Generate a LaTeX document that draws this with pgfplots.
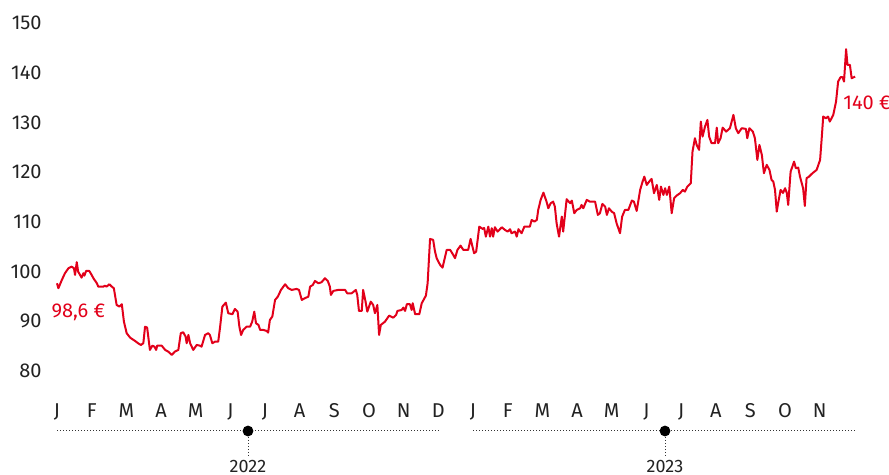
\documentclass[border=0pt]{standalone}
\usepackage{fontspec}
\setmainfont{Fira Sans}
\usepackage{pgfplots}
\pgfplotsset{compat=1.18}
\definecolor{cred}{HTML}{E2001A}
\definecolor{ctxt}{HTML}{222222}
\definecolor{cdot}{HTML}{333333}
\begin{document}
\begin{tikzpicture}
\path[use as bounding box] (0,0) rectangle (444.5pt,237.5pt);
\begin{axis}[
  at={(28.5pt,47.05pt)}, anchor=south west,
  scale only axis, width=400.44pt, height=183.93pt,
  xmin=0, xmax=23.1, ymin=78, ymax=152,
  axis line style={draw=none}, tick style={draw=none}, major tick length=0pt,
  ytick={80,90,...,150},
  yticklabel style={anchor=east, inner sep=0pt, xshift=-7.5pt, font=\fontsize{10}{12}\selectfont, text=ctxt},
  xtick={0,...,22},
  xticklabels={J,F,M,A,M,J,J,A,S,O,N,D,J,F,M,A,M,J,J,A,S,O,N},
  xticklabel style={anchor=base, inner sep=0pt, yshift=-18.5pt, font=\fontsize{10}{12}\selectfont, text=ctxt},
  /pgf/number format/assume math mode=true,
  clip=false,
]
\addplot[cred, line width=1pt, line join=round] coordinates {
(0.00,97.64) (0.04,96.64) (0.14,98.31) (0.23,99.66) (0.33,100.66) (0.42,100.99) (0.49,100.66) (0.52,99.32) (0.57,101.87) (0.61,99.98) (0.71,98.77) (0.76,99.66) (0.79,99.17) (0.84,100.12) (0.93,100.12) (1.00,99.32) (1.05,98.65) (1.15,97.64) (1.19,96.96) (1.34,96.96) (1.38,97.16) (1.43,96.96) (1.51,97.44) (1.58,96.96) (1.64,96.64) (1.72,93.28) (1.80,92.94) (1.87,93.42) (1.93,89.92) (2.01,87.59) (2.11,86.70) (2.25,86.04) (2.34,85.57) (2.42,85.23) (2.49,85.57) (2.54,88.91) (2.60,88.71) (2.68,84.23) (2.75,85.09) (2.81,84.89) (2.86,84.23) (2.89,85.09) (3.02,85.09) (3.12,84.23) (3.21,83.88) (3.31,83.22) (3.40,83.88) (3.50,84.23) (3.57,87.59) (3.64,87.79) (3.71,86.90) (3.74,85.57) (3.79,87.24) (3.84,85.57) (3.93,84.23) (4.03,85.23) (4.12,85.09)
(4.17,84.89) (4.27,87.24) (4.36,87.59) (4.41,87.24) (4.48,85.57) (4.56,85.90) (4.65,85.90) (4.70,88.59) (4.77,92.94) (4.87,93.74) (4.94,91.61) (5.06,91.41) (5.13,92.47) (5.21,91.93) (5.26,88.91) (5.31,87.24) (5.37,88.25) (5.47,88.91) (5.57,88.91) (5.63,89.92) (5.69,91.93) (5.74,89.60) (5.81,89.26) (5.86,88.25) (5.95,88.25) (6.05,88.05) (6.09,87.71) (6.14,90.26) (6.21,90.93) (6.29,94.29) (6.37,94.95) (6.46,96.30) (6.58,97.44) (6.67,96.64) (6.77,96.30) (6.91,96.50) (6.98,96.30) (7.06,94.29) (7.15,94.63) (7.25,94.95) (7.30,96.96) (7.38,97.30) (7.44,98.11) (7.54,97.64) (7.63,97.85) (7.73,98.65) (7.81,98.11) (7.87,96.96) (7.90,95.29) (7.97,96.10) (8.11,96.30) (8.31,96.30)
(8.37,95.63) (8.50,95.63) (8.62,96.30) (8.66,95.29) (8.71,92.07) (8.79,92.07) (8.83,96.30) (8.90,93.94) (8.95,91.93) (9.05,93.94) (9.12,93.28) (9.17,91.61) (9.24,93.28) (9.29,87.24) (9.34,89.26) (9.46,89.92) (9.58,91.13) (9.70,90.72) (9.78,91.27) (9.82,92.07) (9.94,92.27) (9.99,92.74) (10.04,92.07) (10.09,93.42) (10.18,93.42) (10.23,92.27) (10.26,93.62) (10.33,91.41) (10.45,91.41) (10.52,93.62) (10.64,95.15) (10.69,97.64) (10.76,106.56) (10.85,106.36) (10.90,104.14) (10.95,102.68) (11.05,101.33) (11.12,100.78) (11.24,104.35) (11.34,104.35) (11.43,103.34) (11.48,102.68) (11.55,104.35) (11.64,105.21) (11.72,104.35) (11.86,104.35) (11.93,106.56) (12.03,103.68) (12.09,104.00) (12.18,109.03) (12.28,108.57) (12.32,108.77) (12.37,107.02) (12.44,109.03)
(12.49,107.02) (12.54,108.71) (12.58,107.02) (12.63,108.91) (12.71,108.03) (12.83,108.91) (12.92,108.37) (13.00,108.03) (13.07,108.51) (13.11,107.70) (13.21,108.03) (13.26,107.02) (13.31,108.51) (13.40,107.70) (13.48,109.03) (13.64,109.03) (13.69,110.38) (13.77,110.04) (13.84,110.38) (13.88,112.39) (13.95,114.41) (14.03,115.87) (14.12,114.06) (14.17,112.73) (14.24,113.74) (14.31,114.06) (14.36,113.06) (14.41,109.72) (14.48,107.02) (14.56,111.05) (14.60,108.03) (14.70,114.55) (14.80,113.74) (14.85,114.26) (14.92,111.73) (14.99,112.39) (15.09,112.73) (15.13,113.40) (15.18,112.73) (15.28,114.41) (15.37,114.06) (15.52,114.06) (15.60,111.39) (15.66,111.73) (15.73,113.60) (15.81,113.06) (15.86,111.39) (15.92,112.73) (16.00,112.05) (16.07,111.73) (16.14,109.72) (16.24,107.70) (16.30,111.05) (16.38,112.39) (16.48,112.39) (16.58,114.26) (16.64,114.06)
(16.72,112.19) (16.82,116.42) (16.89,118.09) (16.94,119.09) (17.01,117.42) (17.08,118.09) (17.15,118.63) (17.22,115.75) (17.30,117.42) (17.37,114.41) (17.42,117.08) (17.49,115.41) (17.54,116.76) (17.59,115.41) (17.66,117.08) (17.73,111.73) (17.80,114.75) (17.87,115.27) (17.97,115.75) (18.05,116.42) (18.11,116.08) (18.18,117.08) (18.28,117.76) (18.33,124.12) (18.40,126.82) (18.45,125.47) (18.52,124.47) (18.57,130.16) (18.62,127.14) (18.69,129.15) (18.76,130.50) (18.81,127.14) (18.88,125.81) (18.98,125.81) (19.03,128.95) (19.07,125.81) (19.14,126.82) (19.20,128.95) (19.30,128.15) (19.41,128.83) (19.51,131.51) (19.58,128.83) (19.65,127.83) (19.75,128.83) (19.87,128.69) (19.91,126.82) (19.97,128.83) (20.07,128.15) (20.13,126.82) (20.20,122.45) (20.26,125.47) (20.33,123.46) (20.39,119.78) (20.47,121.45) (20.55,120.44) (20.61,118.43) (20.66,118.09) (20.71,116.42) (20.76,112.05)
(20.80,113.74) (20.87,116.42) (20.94,115.81) (21.00,116.76) (21.05,115.81) (21.09,113.40) (21.16,120.10) (21.26,122.11) (21.31,120.78) (21.38,120.90) (21.43,119.09) (21.52,116.76) (21.57,113.20) (21.62,118.77) (21.69,119.09) (21.79,119.78) (21.91,120.44) (22.01,122.45) (22.06,127.14) (22.10,131.17) (22.18,130.84) (22.24,131.17) (22.29,130.16) (22.39,131.51) (22.47,134.18) (22.53,138.21) (22.60,139.09) (22.66,139.09) (22.70,138.21) (22.76,144.73) (22.80,141.57) (22.87,141.57) (22.92,138.89) (23.02,139.21)
};
\node[anchor=west, inner sep=0pt, text=cred, font=\fontsize{10}{12}\selectfont] at (axis cs:-0.17,91.87) {98,6~€};
\node[anchor=west, inner sep=0pt, text=cred, font=\fontsize{10}{12}\selectfont] at (axis cs:22.67,133.92) {140~€};
\end{axis}
% year timeline
\draw[cdot, line width=0.5pt, dash pattern=on 0.5pt off 1pt] (28.5pt,22pt) -- (220.5pt,22pt);
\draw[cdot, line width=0.5pt, dash pattern=on 0.5pt off 1pt] (236.5pt,22pt) -- (428.5pt,22pt);
\draw[cdot, line width=0.5pt, dash pattern=on 0.5pt off 1pt] (124pt,22pt) -- (124pt,9.5pt);
\draw[cdot, line width=0.5pt, dash pattern=on 0.5pt off 1pt] (332.5pt,22pt) -- (332.5pt,9.5pt);
\fill[black] (124pt,22pt) circle (2.7pt);
\fill[black] (332.5pt,22pt) circle (2.7pt);
\node[anchor=base, inner sep=0pt, text=ctxt, font=\fontsize{9}{11}\selectfont] at (124pt,1.2pt) {2022};
\node[anchor=base, inner sep=0pt, text=ctxt, font=\fontsize{9}{11}\selectfont] at (332.5pt,1.2pt) {2023};
\end{tikzpicture}
\end{document}
